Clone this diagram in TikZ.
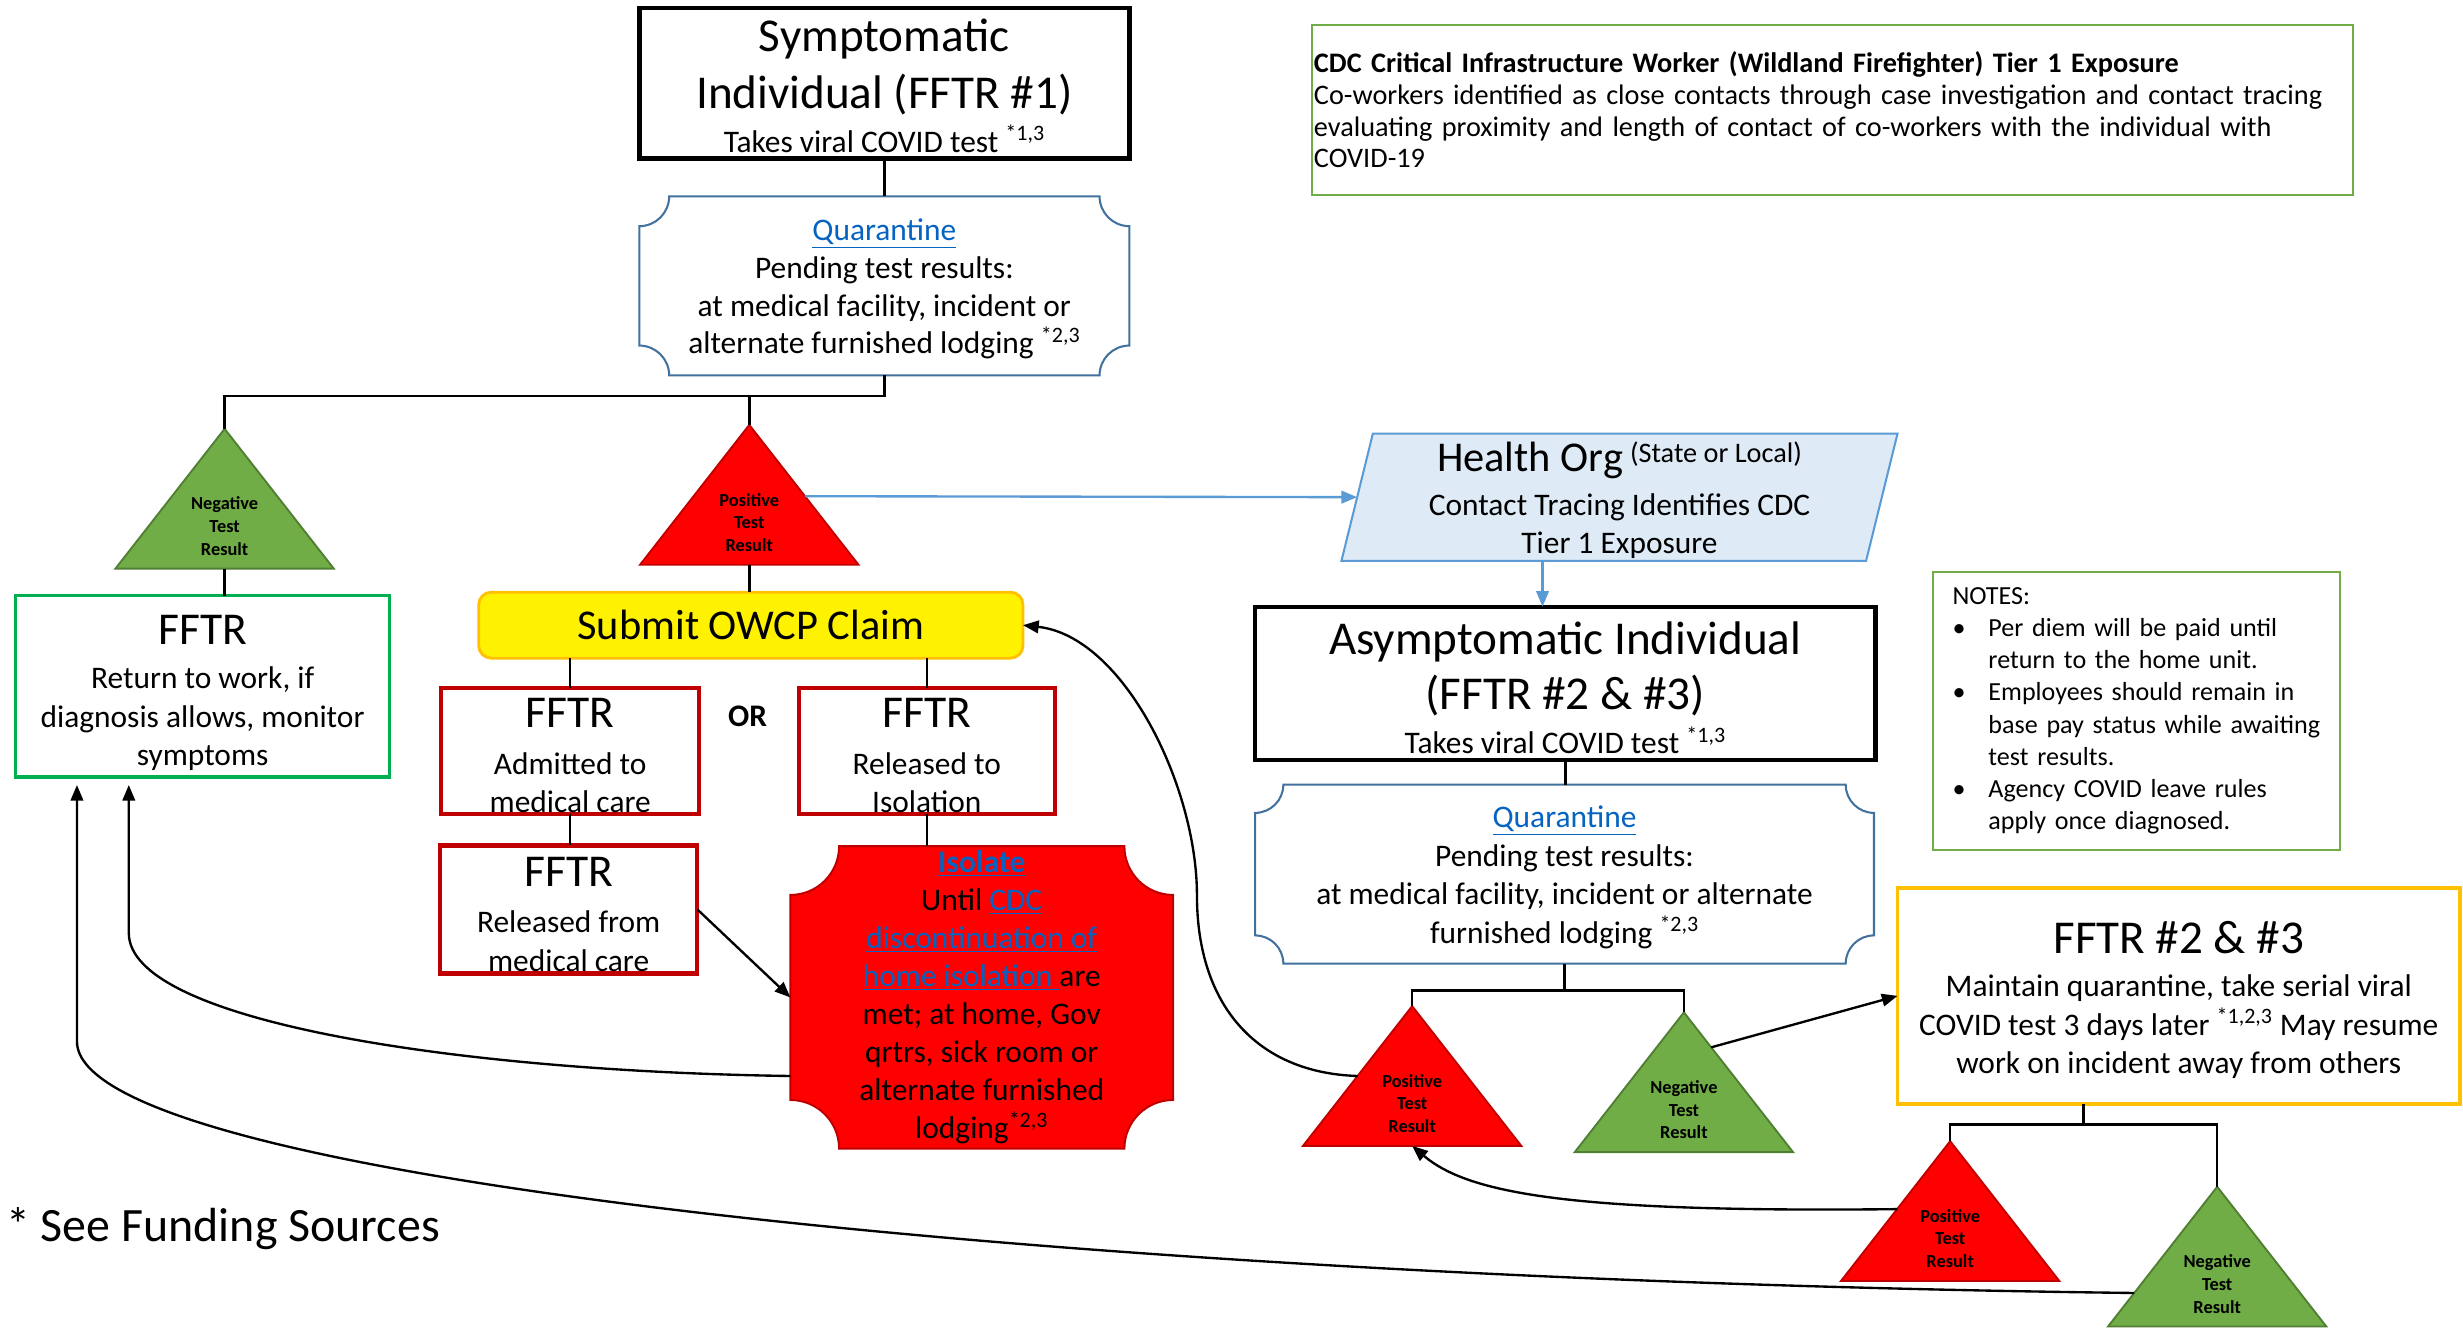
\documentclass[tikz,border=0pt]{standalone}
\usepackage{fontspec}
\setmainfont{Carlito}
\usetikzlibrary{arrows.meta,calc,backgrounds}

\definecolor{linkblue}{RGB}{5,99,193}
\definecolor{plaqueblue}{RGB}{65,113,156}
\definecolor{orgfill}{RGB}{222,235,247}
\definecolor{orgline}{RGB}{91,155,213}
\definecolor{okgreen}{RGB}{112,173,71}
\definecolor{okgreenline}{RGB}{80,126,50}
\definecolor{alertred}{RGB}{255,0,0}
\definecolor{darkred}{RGB}{192,0,0}
\definecolor{rtwgreen}{RGB}{0,176,80}
\definecolor{amber}{RGB}{255,192,0}

\newcommand\titlesz{\fontsize{30}{36}\selectfont}
\newcommand\fftrsz{\fontsize{29}{34}\selectfont}
\newcommand\bodysz{\fontsize{20}{24.5}\selectfont}
\newcommand\lnk[1]{\textcolor{linkblue}{\underline{#1}}}
\newcommand\noteitem[1]{\makebox[22.9pt][l]{\textbullet}\mbox{#1}}
\newcommand\notecont[1]{\hspace*{22.9pt}\mbox{#1}}
\newcommand\plaque[3]{%
  \filldraw[#3] ([yshift=-#2pt]#1.north west) arc[start angle=270, end angle=360, radius=#2pt]
    -- ([xshift=-#2pt]#1.north east) arc[start angle=180, end angle=270, radius=#2pt]
    -- ([yshift=#2pt]#1.south east) arc[start angle=90, end angle=180, radius=#2pt]
    -- ([xshift=#2pt]#1.south west) arc[start angle=0, end angle=90, radius=#2pt] -- cycle;}

\begin{document}
\begin{tikzpicture}[x=1pt, y=-1pt, line width=1.6pt,
  every node/.style={outer sep=0pt, inner sep=0pt, align=center, font=\bodysz},
  blkbox/.style={draw, line width=2.8pt},
  redbox/.style={draw=darkred, line width=2.6pt},
  tri/.style={minimum width=139, minimum height=89},
  tritext/.style={font=\fontsize{11.7}{14.4}\selectfont\bfseries},
  arr/.style={-{Triangle[length=10pt,width=8pt]}, line width=1.5pt},
  barr/.style={-{Triangle[length=10pt,width=8pt]}, draw=orgline, line width=1.5pt}]
\useasboundingbox (0,0) rectangle (1568,845);

\node[blkbox, minimum width=312, minimum height=96, font=\fontsize{20}{36}\selectfont] (sym) at (563,53)
  {\rule{0pt}{24pt}\titlesz Symptomatic\\\titlesz Individual (FFTR \#1)\\[-8pt]\bodysz Takes viral COVID test \textsuperscript{*1,3}};
\node[minimum width=312, minimum height=114, font=\fontsize{20}{24}\selectfont] (qa) at (563,182)
  {\rule{0pt}{18pt}\lnk{Quarantine}\\Pending test results:\\at medical facility, incident or\\alternate furnished lodging \textsuperscript{*2,3}};

\node[tri] (negA) at (143,317.5) {};
\node[tri] (posA) at (477,315) {};

\node[draw=rtwgreen, line width=2.2pt, minimum width=238, minimum height=115.5] (ret) at (129,437)
  {\rule{0pt}{27pt}\fftrsz FFTR\\[3.5pt]Return to work, if\\diagnosis allows, monitor\\symptoms};
\node[fill=yellow, draw=amber, line width=1.8pt, rounded corners=8pt, minimum width=346.5, minimum height=42,
  font=\fontsize{27}{32}\selectfont] (owcp) at (478,398) {Submit OWCP Claim};

\node[redbox, minimum width=164, minimum height=80] (adm) at (363,478) {\rule{0pt}{25pt}\fftrsz FFTR\\[5pt]Admitted to\\medical care};
\node[redbox, minimum width=163, minimum height=80] (rel) at (590,478) {\rule{0pt}{25pt}\fftrsz FFTR\\[5pt]Released to\\Isolation};
\node[font=\fontsize{20}{24}\selectfont\bfseries] (orlbl) at (476,456) {OR};
\node[redbox, minimum width=164, minimum height=81.5] (relmed) at (362,579) {\rule{0pt}{25pt}\fftrsz FFTR\\[5pt]Released from\\medical care};

\node[minimum width=243.6, minimum height=192.5, font=\fontsize{20}{24.2}\selectfont] (iso) at (625,635)
  {\lnk{\textbf{Isolate}}\\Until \lnk{CDC}\\\lnk{discontinuation of}\\\lnk{home isolation }are\\met; at home, Gov\\qrtrs, sick room or\\alternate furnished\\lodging\textsuperscript{*2,3}};

\node[minimum width=334, minimum height=81] (health) at (1031,316.5)
  {\rule{0pt}{23pt}{\fontsize{27}{32}\selectfont Health Org} \raisebox{6pt}{\fontsize{18}{20}\selectfont(State or Local)}\\[3pt]Contact Tracing Identifies CDC\\Tier 1 Exposure};

\node[blkbox, minimum width=395, minimum height=97.5, font=\fontsize{20}{30}\selectfont] (asym) at (996.5,435)
  {\rule{0pt}{27pt}\titlesz Asymptomatic Individual\\[5pt]\titlesz (FFTR \#2 \& \#3)\\[-2pt]\bodysz Takes viral COVID test \textsuperscript{*1,3}};
\node[minimum width=394, minimum height=114] (qb) at (996,556.5)
  {\rule{0pt}{18pt}\lnk{Quarantine}\\Pending test results:\\at medical facility, incident or alternate\\furnished lodging \textsuperscript{*2,3}};

\node[tri] (posB) at (899,685) {};
\node[tri] (negB) at (1072,689) {};

\node[draw=amber, line width=2.2pt, minimum width=358, minimum height=137.5] (ff23) at (1387,634)
  {\rule{0pt}{26pt}\titlesz FFTR \#2 \& \#3\\[3pt]Maintain quarantine, take serial viral\\COVID test 3 days later \textsuperscript{*1,2,3} May resume\\work on incident away from others};

\node[tri] (posC) at (1241.5,771) {};
\node[tri] (negC) at (1411.5,800) {};

\node[draw=okgreen, line width=1.3pt, minimum height=108, text width=660pt, inner xsep=1.5pt, align=left,
  font=\fontsize{18}{20.2}\selectfont] (cdc) at (1166.5,70)
  {\textbf{CDC Critical Infrastructure Worker (Wildland Firefighter) Tier 1 Exposure}\\
   Co-workers identified as close contacts through case investigation and contact tracing\\
   evaluating proximity and length of contact of co-workers with the individual with\\
   COVID-19};

\node[draw=okgreen, line width=1.3pt, minimum height=177, text width=234pt, inner xsep=12.5pt, align=left,
  font=\fontsize{16.6}{20.5}\selectfont] (notes) at (1360,452.5)
  {NOTES:\\
   \noteitem{Per diem will be paid until}\\
   \notecont{return to the home unit.}\\
   \noteitem{Employees should remain in}\\
   \notecont{base pay status while awaiting}\\
   \notecont{test results.}\\
   \noteitem{Agency COVID leave rules}\\
   \notecont{apply once diagnosed.}};

\node[anchor=base west, font=\fontsize{30.5}{34}\selectfont] (fund) at (4,790.5) {* See Funding Sources};

\begin{scope}[on background layer]
\plaque{qa}{19}{fill=white, draw=plaqueblue, line width=1.3pt}
\plaque{qb}{18}{fill=white, draw=plaqueblue, line width=1.3pt}
\plaque{iso}{31}{fill=alertred, draw=darkred, line width=1.3pt}
\filldraw[fill=orgfill, draw=orgline, line width=1.3pt] ([xshift=-10pt]health.south west) -- ([xshift=10pt]health.north west)
  -- ([xshift=10pt]health.north east) -- ([xshift=-10pt]health.south east) -- cycle;
\foreach \t/\f/\d in {negA/okgreen/okgreenline, posA/alertred/darkred, posB/alertred/darkred,
    negB/okgreen/okgreenline, posC/alertred/darkred, negC/okgreen/okgreenline}
  \filldraw[fill=\f, draw=\d, line width=1.2pt] (\t.south west) -- (\t.north) -- (\t.south east) -- cycle;
\end{scope}

\node[tritext] (negAt) at ($(negA.south)+(0,-27)$) {Negative\\Test\\Result};
\node[tritext] (posAt) at ($(posA.south)+(0,-27)$) {Positive\\Test\\Result};
\node[tritext] (posBt) at ($(posB.south)+(0,-27)$) {Positive\\Test\\Result};
\node[tritext] (negBt) at ($(negB.south)+(0,-27)$) {Negative\\Test\\Result};
\node[tritext] (posCt) at ($(posC.south)+(0,-27)$) {Positive\\Test\\Result};
\node[tritext] (negCt) at ($(negC.south)+(0,-27)$) {Negative\\Test\\Result};

\draw (sym.south) -- (qa.north);
\coordinate (qaj) at ($(qa.south)+(0,13)$);
\draw (qa.south) -- (qaj) -| (negA.north);
\draw (qaj) -| (posA.north);
\draw (negA.south) -- (negA.south |- ret.north);
\draw (posA.south) -- (posA.south |- owcp.north);
\draw (adm.north |- owcp.south) -- (adm.north);
\draw (rel.north |- owcp.south) -- (rel.north);
\draw (adm.south) -- (adm.south |- relmed.north);
\draw (rel.south) -- (rel.south |- iso.north);
\draw[arr] (relmed.east) -- (iso.west);

\draw[barr] ($(posA.north)!0.51!(posA.south east)$) -- (health.west);
\coordinate (hs) at ($(health.south)+(-49,0)$);
\draw[barr] (hs) -- (hs |- asym.north);

\draw (asym.south) -- (asym.south |- qb.north);
\coordinate (qbj) at ($(qb.south)+(0,17)$);
\draw (qb.south) -- (qbj);
\draw (posB.north) |- (qbj) -| (negB.north);
\draw[arr] ($(negB.north)!0.25!(negB.south east)$) -- (ff23.west);

\coordinate (ffj) at ($(posC.north)!0.5!(negC.north)$);
\coordinate (ffy) at ($(ff23.south)+(0,13)$);
\draw (ffj |- ff23.south) -- (ffj |- ffy);
\draw (posC.north) |- (ffy) -| (negC.north);

\coordinate (retA) at ($(ret.south west)+(39,5)$);
\coordinate (retB) at ($(ret.south west)+(72,5)$);
\draw[arr] ($(posC.north)!0.486!(posC.south west)$) .. controls (1000,772) and (935,760) .. (posB.south);
\draw[arr] ($(negC.north)!0.76!(negC.south west)$) .. controls (700,815) and (retA |- 0,752) .. (retA |- 0,663) -- (retA);
\draw[arr] ($(iso.west)+(0,50)$) .. controls (290,682) and (retB |- 0,650) .. (retB |- 0,594) -- (retB);
\draw[arr] ($(posB.north)!0.5!(posB.south west)$) .. controls (800,683) and (762,640) .. (762,570)
  .. controls (762,500) and (715,405) .. (owcp.east);
\end{tikzpicture}
\end{document}
